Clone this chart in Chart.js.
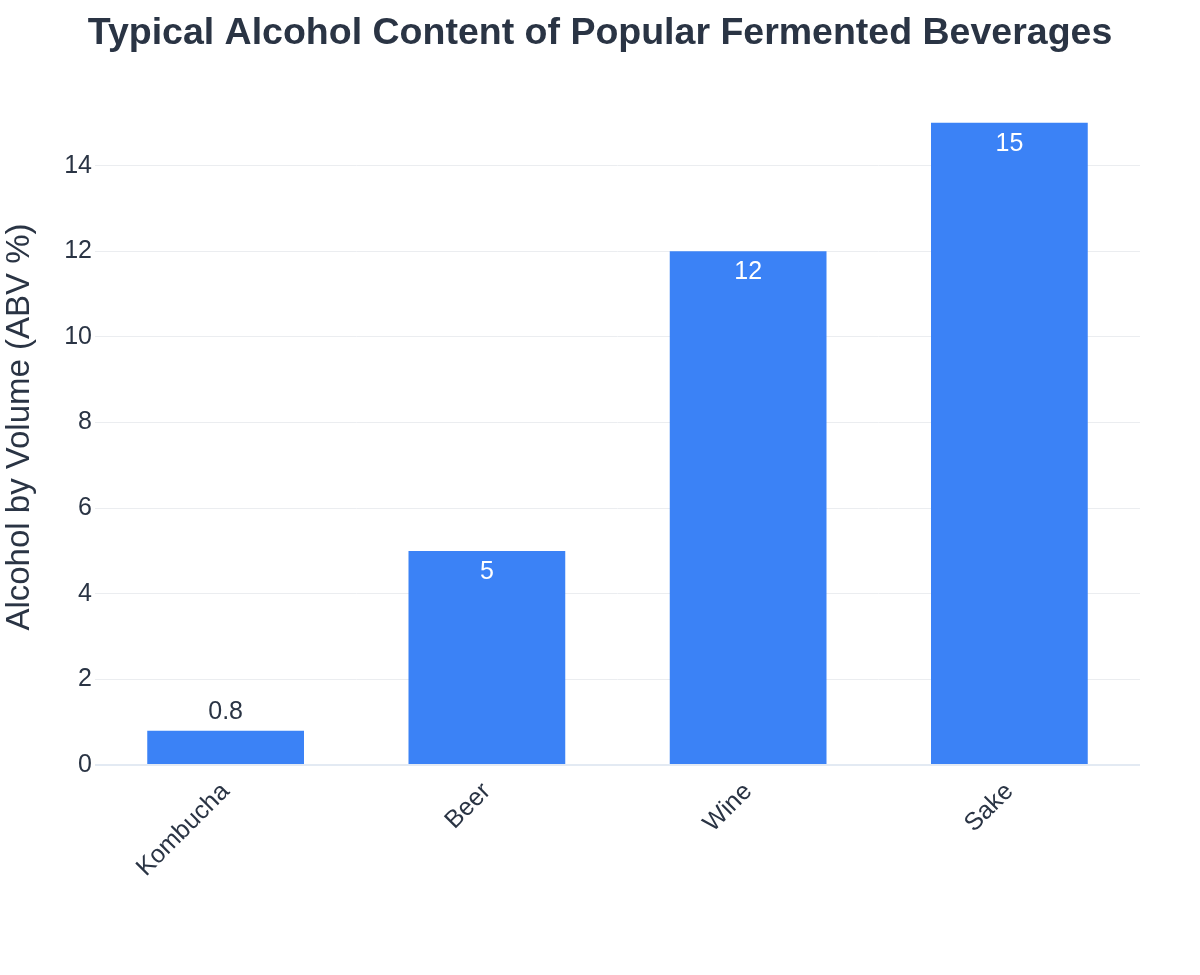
<!doctype html>
<html lang="en">
<head>
<meta charset="utf-8">
<script src="https://cdn.jsdelivr.net/npm/chart.js"></script>
<style>
  html, body { margin: 0; padding: 0; background: #fff; }
  .wrap { width: 1200px; height: 975px; }
</style>
</head>
<body>
<div class="wrap"><canvas id="abv-chart" width="1200" height="975"></canvas></div>
<script>
// data
var beverages = ['Kombucha', 'Beer', 'Wine', 'Sake'];
var abvValues = [0.8, 5, 12, 15];
var yTickMax = 14;
var yRangeMax = 15.79;

var chartTitle = 'Typical Alcohol Content of Popular Fermented Beverages';
var textColor = '#2a3444';
var barColor = '#3b82f6';
var fontFamily = '"Liberation Sans", Arial, sans-serif';

/*--------page title centred on the whole canvas---------*/
var pageTitle = {
  id: 'pageTitle',
  afterDraw: function(chart) {
    var ctx = chart.ctx;
    ctx.save();
    ctx.font = 'bold 37.5px ' + fontFamily;
    ctx.fillStyle = textColor;
    ctx.textAlign = 'center';
    ctx.textBaseline = 'middle';
    ctx.fillText(chartTitle, chart.width / 2, 34);
    ctx.restore();
  }
};

/*--------value labels on the bars---------*/
var barLabels = {
  id: 'barLabels',
  afterDatasetsDraw: function(chart) {
    var ctx = chart.ctx;
    var meta = chart.getDatasetMeta(0);
    ctx.save();
    ctx.font = '25px ' + fontFamily;
    ctx.textAlign = 'center';
    ctx.textBaseline = 'middle';
    meta.data.forEach(function(bar, i) {
      var h = bar.base - bar.y;
      if (h > 45) {
        ctx.fillStyle = '#ffffff';
        ctx.fillText(String(abvValues[i]), bar.x, bar.y + 21);
      } else {
        ctx.fillStyle = textColor;
        ctx.fillText(String(abvValues[i]), bar.x, bar.y - 19);
      }
    });
    ctx.restore();
  }
};

var ctx = document.getElementById('abv-chart').getContext('2d');
var abvChart = new Chart(ctx, {
  type: 'bar',
  data: {
    labels: beverages,
    datasets: [{
      label: 'ABV',
      data: abvValues,
      backgroundColor: barColor,
      borderWidth: 0,
      categoryPercentage: 1.0,
      barPercentage: 0.6
    }]
  },
  plugins: [barLabels, pageTitle],
  options: {
    responsive: false,
    animation: false,
    layout: { padding: { top: 89, right: 60, bottom: 0, left: 0 } },
    plugins: {
      legend: { display: false },
      tooltip: { enabled: false },
      title: { display: false }
    },
    scales: {
      x: {
        grid: { display: false },
        border: { display: false },
        ticks: {
          color: textColor,
          font: { family: fontFamily, size: 25 },
          minRotation: 45,
          maxRotation: 45,
          padding: 4
        },
        afterFit: function(scale) { scale.height = 210; }
      },
      y: {
        min: 0,
        max: yRangeMax,
        border: { display: false },
        grid: {
          drawTicks: false,
          color: function(c) { return c.tick && c.tick.value === 0 ? '#e3eaf3' : '#ebedf0'; },
          lineWidth: function(c) { return c.tick && c.tick.value === 0 ? 2 : 1; }
        },
        ticks: {
          stepSize: 2,
          color: textColor,
          font: { family: fontFamily, size: 25 },
          padding: 3
        },
        afterBuildTicks: function(scale) {
          scale.ticks = scale.ticks.filter(function(t) { return t.value <= yTickMax; });
        },
        title: {
          display: true,
          text: 'Alcohol by Volume (ABV %)',
          color: textColor,
          font: { family: fontFamily, size: 33 },
          padding: { top: 0, bottom: 10 }
        },
        afterFit: function(scale) { scale.width = 95; }
      }
    }
  }
});
</script>
</body>
</html>
